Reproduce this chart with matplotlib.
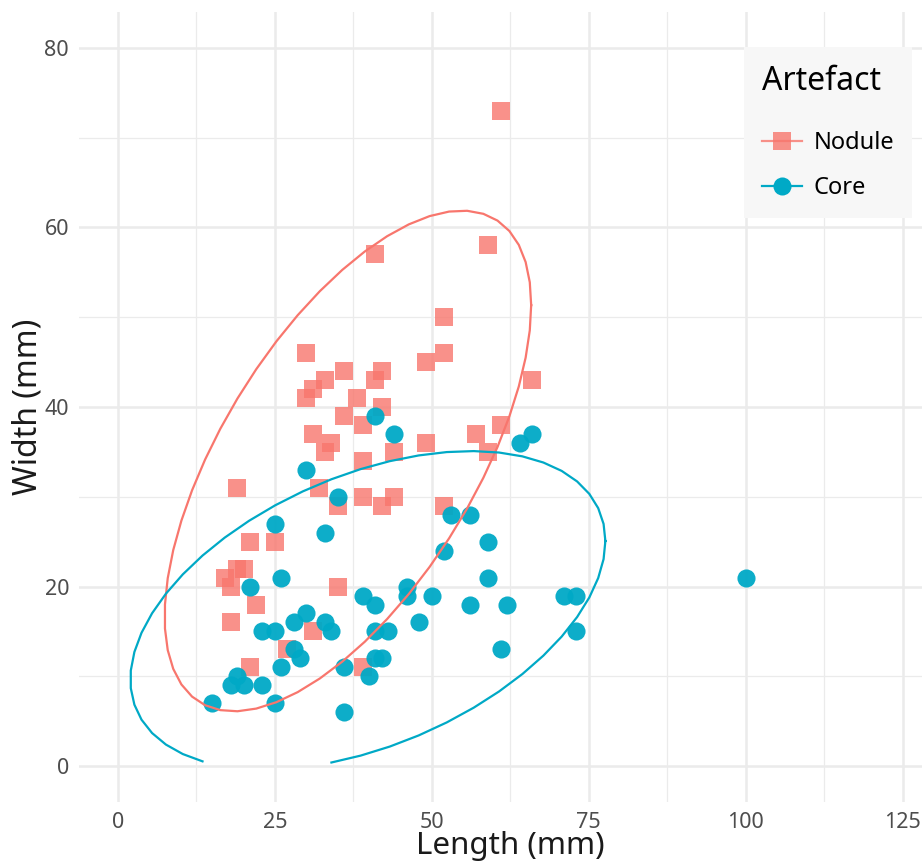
import numpy as np
import matplotlib
matplotlib.use('Agg')
import matplotlib.pyplot as plt
from matplotlib.lines import Line2D

plt.rcParams['font.family'] = ['Noto Sans', 'DejaVu Sans']

# Nodule measurements (mm)
nodule_length = [61, 41, 59, 52, 52, 49, 30, 66, 36, 42, 33, 41, 31, 30, 38, 42,
                 36, 39, 31, 34, 33, 49, 57, 61, 59, 44, 39, 19, 32, 39, 44, 42,
                 35, 52, 21, 25, 17, 19, 20, 18, 22, 18, 21, 31, 27, 35, 39]
nodule_width = [73, 57, 58, 50, 46, 45, 46, 43, 44, 44, 43, 43, 42, 41, 41, 40,
                39, 38, 37, 36, 35, 36, 37, 38, 35, 35, 34, 31, 31, 30, 30, 29,
                29, 29, 25, 25, 21, 22, 22, 20, 18, 16, 11, 15, 13, 20, 11]

# Core measurements (mm)
core_length = [41, 44, 30, 35, 53, 56, 64, 66, 25, 33, 52, 59, 59, 26, 21, 46, 46,
               50, 39, 41, 56, 62, 71, 73, 73, 61, 48, 30, 28, 33, 34, 23, 25, 41,
               43, 28, 29, 41, 42, 26, 36, 40, 19, 18, 20, 23, 15, 25, 36, 100]
core_width = [39, 37, 33, 30, 28, 28, 36, 37, 27, 26, 24, 25, 21, 21, 20, 20, 19,
              19, 19, 18, 18, 18, 19, 19, 15, 13, 16, 17, 16, 16, 15, 15, 15, 15,
              15, 13, 12, 12, 12, 11, 11, 10, 10, 9, 9, 9, 7, 7, 6, 21]

RED = '#F8766D'
BLUE = '#00A9C6'


def cov_trob(x, nu=5, maxit=25, tol=0.01):
    # robust multivariate t estimate of location and scatter (as MASS::cov.trob)
    n, p = x.shape
    loc = x.mean(axis=0)
    w = np.ones(n)
    for _ in range(maxit):
        w0 = w
        X = x - loc
        _, d, vt = np.linalg.svd(np.sqrt(w / w.sum())[:, None] * X, full_matrices=False)
        wX = X @ vt.T @ np.diag(1 / d)
        Q = (wX ** 2).sum(axis=1)
        w = (nu + p) / (nu + Q)
        loc = (w[:, None] * x).sum(axis=0) / w.sum()
        if np.all(np.abs(w - w0) < tol):
            break
    X = x - loc
    cov = (np.sqrt(w)[:, None] * X).T @ (np.sqrt(w)[:, None] * X) / n
    return loc, cov


def ellipse_path(xs, ys, level=0.95, segments=51):
    data = np.column_stack([xs, ys]).astype(float)
    center, shape = cov_trob(data)
    dfd = len(xs) - 1
    # F(2, dfd) quantile has a closed form
    fq = dfd / 2 * ((1 - level) ** (-2 / dfd) - 1)
    radius = np.sqrt(2 * fq)
    ang = np.arange(segments + 1) * 2 * np.pi / segments
    circle = np.column_stack([np.cos(ang), np.sin(ang)])
    pts = center + radius * circle @ np.linalg.cholesky(shape).T
    ex, ey = pts[:, 0].copy(), pts[:, 1].copy()
    # values outside the y scale limits are dropped
    ey[ey < 0] = np.nan
    return ex, ey


fig = plt.figure(figsize=(9.22, 8.66), dpi=100)
ax = fig.add_axes([78.75 / 922, 64 / 866, 863.25 / 922, 790 / 866])

for v in [12.5, 37.5, 62.5, 87.5, 112.5]:
    ax.axvline(v, color='#EBEBEB', lw=0.9, zorder=0)
for v in [10, 30, 50, 70]:
    ax.axhline(v, color='#EBEBEB', lw=0.9, zorder=0)
for v in [0, 25, 50, 75, 100, 125]:
    ax.axvline(v, color='#EBEBEB', lw=1.8, zorder=0)
for v in [0, 20, 40, 60, 80]:
    ax.axhline(v, color='#EBEBEB', lw=1.8, zorder=0)

ax.scatter(nodule_length, nodule_width, marker='s', s=150, color=RED, alpha=0.8,
           linewidths=0, zorder=3)
ax.scatter(core_length, core_width, marker='o', s=170, color=BLUE, alpha=0.95,
           linewidths=0, zorder=3)

ex, ey = ellipse_path(nodule_length, nodule_width)
ax.plot(ex, ey, color=RED, lw=1.6, zorder=4)
ex, ey = ellipse_path(core_length, core_width)
ax.plot(ex, ey, color=BLUE, lw=1.6, zorder=4)

ax.set_xlim(-6.25, 131.25)
ax.set_ylim(-4, 84)
ax.set_xticks([0, 25, 50, 75, 100, 125])
ax.set_yticks([0, 20, 40, 60, 80])
ax.tick_params(length=0, labelsize=15.5, labelcolor='#4D4D4D', pad=7)
for s in ax.spines.values():
    s.set_visible(False)
ax.set_xlabel('Length (mm)', fontsize=22.5, color='#1A1A1A', labelpad=-1)
ax.set_ylabel('Width (mm)', fontsize=23, color='#1A1A1A', labelpad=0)

handles = [
    Line2D([], [], color=RED, lw=1.6, marker='s', markersize=13, alpha=0.8,
           markeredgewidth=0),
    Line2D([], [], color=BLUE, lw=1.6, marker='o', markersize=13,
           markeredgewidth=0),
]
leg = fig.legend(handles, ['Nodule', 'Core'], title='Artefact',
                 loc='upper left', bbox_to_anchor=(744 / 922, 1 - 47 / 866),
                 fontsize=17, title_fontsize=23, frameon=True, fancybox=False,
                 handlelength=1.7, borderpad=0.75, labelspacing=0.9,
                 handletextpad=0.5, borderaxespad=0)
leg.get_frame().set_facecolor('#F7F7F7')
leg.get_frame().set_edgecolor('none')
leg.get_frame().set_alpha(1)
leg._legend_box.align = 'left'
leg._legend_box.sep = 24

fig.savefig('out.png', dpi=100)
